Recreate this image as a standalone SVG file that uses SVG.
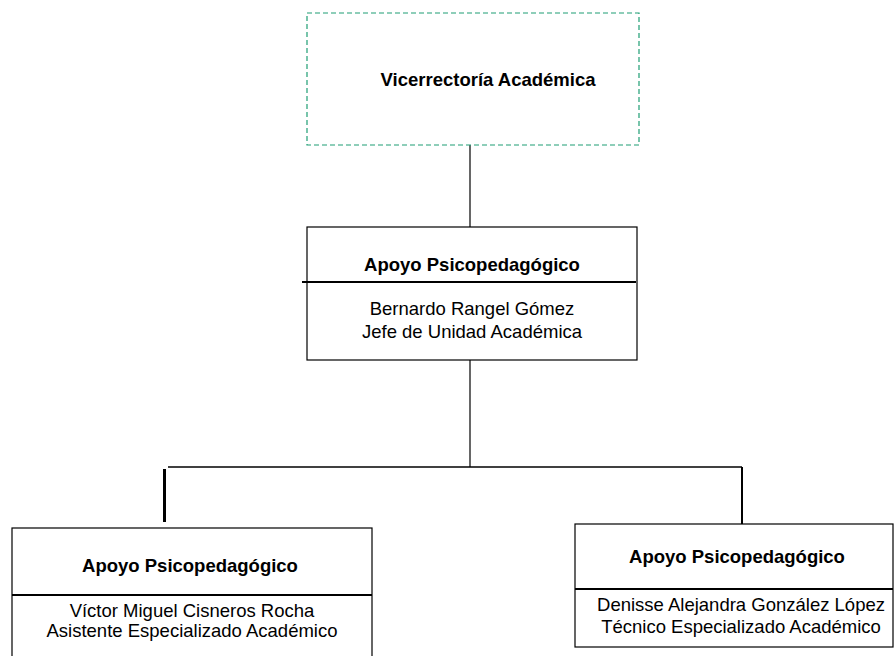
<svg xmlns="http://www.w3.org/2000/svg" width="895" height="656" viewBox="0 0 895 656">
  <style>
    .box { fill: #ffffff; stroke: #000000; stroke-width: 1.2; }
    .top { fill: #ffffff; stroke: #1f9e74; stroke-width: 1.2; stroke-dasharray: 5 3; }
    .div { stroke: #000000; stroke-width: 2; }
    .wire { stroke: #000000; fill: none; }
    .title { font-family: "Liberation Sans", Arial, sans-serif; font-size: 18.5px; font-weight: bold; fill: #000000; text-anchor: middle; }
    .body { font-family: "Liberation Sans", Arial, sans-serif; font-size: 18.5px; fill: #000000; text-anchor: middle; }
  </style>
  <rect width="895" height="656" fill="#ffffff"/>

  <g id="connectors">
    <line class="wire" x1="470" y1="145" x2="470" y2="228" stroke-width="1.2"/>
    <line class="wire" x1="470" y1="360" x2="470" y2="467" stroke-width="1.2"/>
    <line class="wire" x1="168" y1="467" x2="742" y2="467" stroke-width="1.5"/>
    <line class="wire" x1="164.5" y1="469" x2="164.5" y2="522" stroke-width="3"/>
    <line class="wire" x1="742" y1="467" x2="742" y2="524" stroke-width="2"/>
  </g>

  <g id="vicerrectoria">
    <rect class="top" x="307" y="13" width="332" height="132"/>
    <text class="title" x="488" y="86">Vicerrectoría Académica</text>
  </g>

  <g id="apoyo-jefe">
    <rect class="box" x="307" y="227" width="330" height="133"/>
    <line class="div" x1="302" y1="282" x2="636" y2="282"/>
    <text class="title" x="472" y="271">Apoyo Psicopedagógico</text>
    <text class="body" x="472" y="315">Bernardo Rangel Gómez</text>
    <text class="body" x="472" y="338">Jefe de Unidad Académica</text>
  </g>

  <g id="apoyo-asistente">
    <rect class="box" x="12" y="528" width="360" height="140"/>
    <line class="div" x1="12" y1="595" x2="372" y2="595"/>
    <text class="title" x="190" y="572">Apoyo Psicopedagógico</text>
    <text class="body" x="192" y="617">Víctor Miguel Cisneros Rocha</text>
    <text class="body" x="192" y="637">Asistente Especializado Académico</text>
  </g>

  <g id="apoyo-tecnico">
    <rect class="box" x="575" y="524" width="318" height="123"/>
    <line class="div" x1="575" y1="589" x2="893" y2="589"/>
    <text class="title" x="737" y="563">Apoyo Psicopedagógico</text>
    <text class="body" x="741" y="611">Denisse Alejandra González López</text>
    <text class="body" x="741" y="633">Técnico Especializado Académico</text>
  </g>
</svg>
